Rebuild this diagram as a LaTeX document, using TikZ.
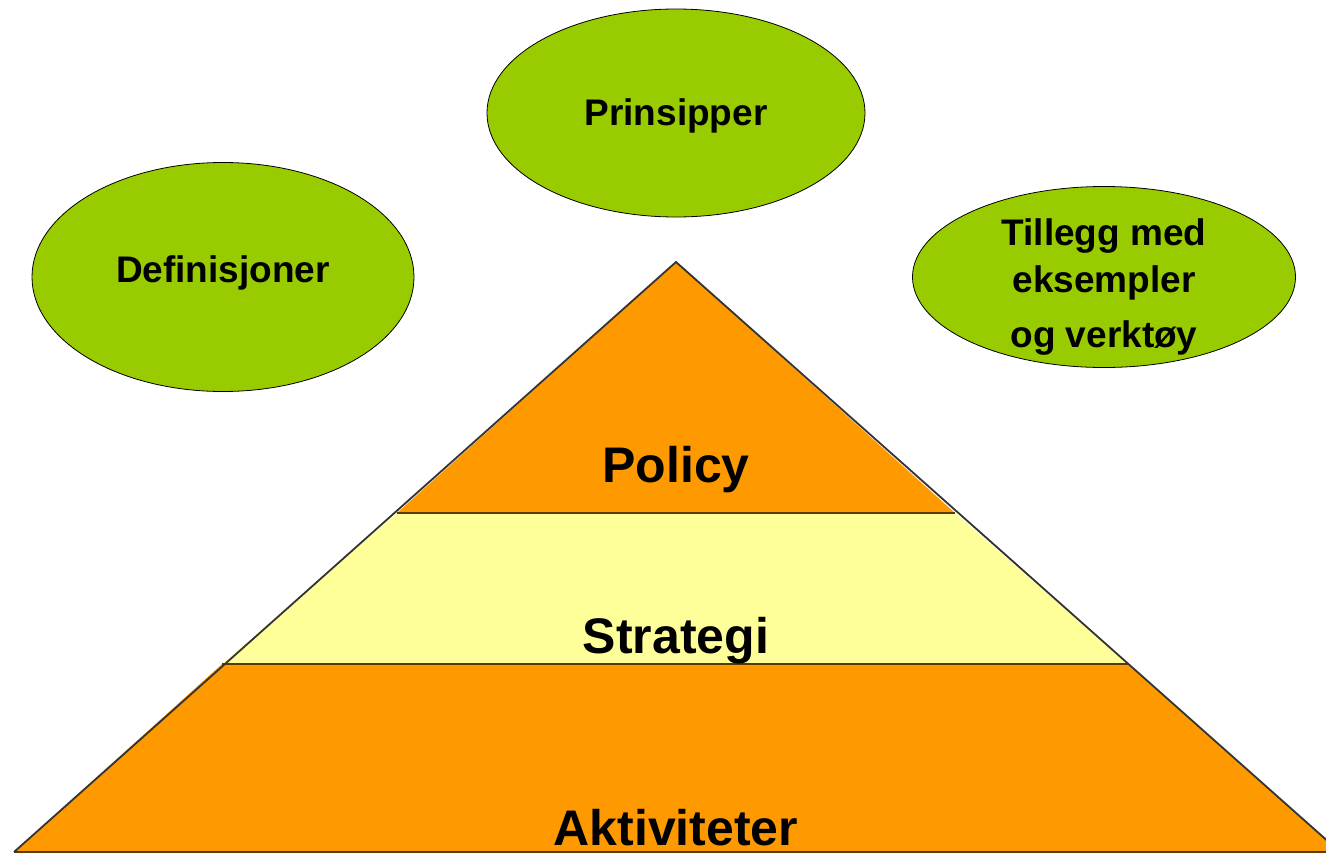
\documentclass[tikz,border=0pt]{standalone}
\usepackage{fontspec}
\setmainfont{Liberation Sans}
\usetikzlibrary{shapes.geometric}
\definecolor{orangeL}{HTML}{FF9900}
\definecolor{yellowL}{HTML}{FFFF99}
\definecolor{greenL}{HTML}{99CC00}
\definecolor{edgeL}{HTML}{333333}
\definecolor{bandL}{HTML}{5A3A00}
\tikzset{
  bubble/.style={ellipse, draw=black, line width=0.8pt, fill=greenL, inner sep=0pt},
  bubbletext/.style={font=\bfseries\fontsize{37}{48}\selectfont, align=center, inner sep=0pt},
  layerlabel/.style={font=\bfseries\fontsize{50}{55}\selectfont, inner sep=0pt},
  edge/.style={draw=edgeL, line width=1.8pt, line join=miter},
  band/.style={draw=bandL, line width=1.6pt}
}
\begin{document}
\begin{tikzpicture}[x=1pt,y=-1pt]
\useasboundingbox (0,0) rectangle (1326,854);
\begin{scope}
\clip (0,0) rectangle (1326,854);
% coordinates
\coordinate (apex) at (676,262);
\coordinate (pl) at (397,513);
\coordinate (pr) at (955,513);
\coordinate (sl) at (222,664);
\coordinate (sr) at (1128,664);
\coordinate (bl) at (14,852);
\coordinate (br) at (1340,852);
% layers
\fill[orangeL] (sl) -- (sr) -- (br) -- (bl) -- cycle;
\fill[yellowL] (pl) -- (pr) -- (sr) -- (sl) -- cycle;
\fill[orangeL] (apex) -- (pr) -- (pl) -- cycle;
\draw[band] (pl) -- (pr);
\draw[band] (sl) -- (sr);
\draw[band] (bl) -- (br);
\draw[edge] (bl) -- (apex) -- (br);
\end{scope}
% labels
\node[layerlabel] (policy) at (676,470) {Policy};
\node[layerlabel] (strategi) at (676,641) {Strategi};
\node[layerlabel, anchor=base, text depth=0pt] (aktiv) at (676,845) {Aktiviteter};
% bubbles
\node[bubble, minimum width=378pt, minimum height=208pt] (prinsipper) at (676,113) {};
\node[bubbletext] (prinsipperT) at (676,116) {Prinsipper};
\node[bubble, minimum width=382pt, minimum height=229pt] (definisjoner) at (223,277) {};
\node[bubbletext] (definisjonerT) at (223,273) {Definisjoner};
\node[bubble, minimum width=383pt, minimum height=181pt] (tillegg) at (1104,277) {};
\node[bubbletext] (tillegg1) at (1104,236) {Tillegg med};
\node[bubbletext] (tillegg2) at (1104,283) {eksempler};
\node[bubbletext] (tillegg3) at (1104,338) {og verktøy};
\end{tikzpicture}
\end{document}
